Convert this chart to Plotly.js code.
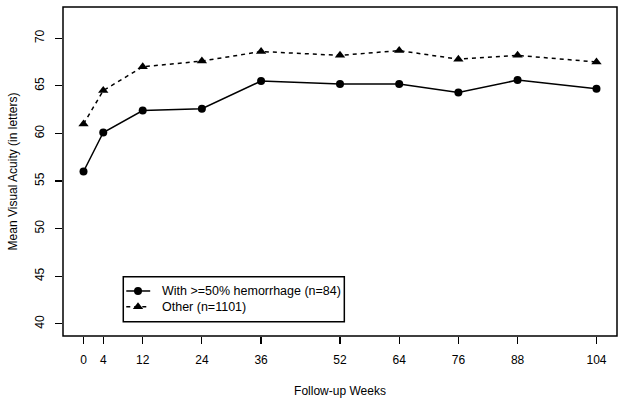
<!DOCTYPE html>
<html>
<head>
<meta charset="utf-8">
<script src="https://cdn.plot.ly/plotly-3.0.1.min.js"></script>
<style>html,body{margin:0;padding:0;background:#fff;}#chart{width:624px;height:403px;}</style>
</head>
<body>
<div id="chart"></div>
<script>
var weeks = [0, 4, 12, 24, 36, 52, 64, 76, 88, 104];
var hemorrhage = [56.0, 60.1, 62.4, 62.6, 65.5, 65.2, 65.2, 64.3, 65.6, 64.7];
var other = [61.0, 64.5, 67.0, 67.6, 68.6, 68.2, 68.7, 67.8, 68.2, 67.5];
var yTicks = [40, 45, 50, 55, 60, 65, 70];
var seriesNames = ["With >=50% hemorrhage (n=84)", "Other (n=1101)"];

// legend layout (fractions of the plot area)
var legBox = {x0: 0.1088, x1: 0.5078, y0: 0.0435, y1: 0.1802};
var legRowY = [0.1368, 0.0891];
var legLineX = [0.1142, 0.1574];
var legMarkX = 0.1354;
var legTextX = 0.1751;

var font = {family: "Liberation Sans, Arial, sans-serif", size: 12, color: "#000"};

var traces = [
  {
    x: weeks, y: hemorrhage, name: seriesNames[0], type: "scatter", mode: "lines+markers",
    line: {color: "#000", width: 1.5},
    marker: {symbol: "circle", size: 8, color: "#000"}, showlegend: false
  },
  {
    x: weeks, y: other, name: seriesNames[1], type: "scatter", mode: "lines+markers",
    line: {color: "#000", width: 1.5, dash: "4px,4px"},
    marker: {symbol: "triangle-up", size: 9, color: "#000"}, showlegend: false
  },
  // legend keys drawn on an overlay axis spanning 0..1
  {
    x: legLineX, y: [legRowY[0], legRowY[0]], xaxis: "x2", yaxis: "y2", type: "scatter", mode: "lines",
    line: {color: "#000", width: 1.5}, showlegend: false, hoverinfo: "skip"
  },
  {
    x: [legMarkX], y: [legRowY[0]], xaxis: "x2", yaxis: "y2", type: "scatter", mode: "markers",
    marker: {symbol: "circle", size: 8, color: "#000"}, showlegend: false, hoverinfo: "skip"
  },
  {
    x: legLineX, y: [legRowY[1], legRowY[1]], xaxis: "x2", yaxis: "y2", type: "scatter", mode: "lines",
    line: {color: "#000", width: 1.5, dash: "4px,4px"}, showlegend: false, hoverinfo: "skip"
  },
  {
    x: [legMarkX], y: [legRowY[1]], xaxis: "x2", yaxis: "y2", type: "scatter", mode: "markers",
    marker: {symbol: "triangle-up", size: 9, color: "#000"}, showlegend: false, hoverinfo: "skip"
  }
];

var layout = {
  width: 624, height: 403,
  margin: {l: 63, r: 7, t: 7, b: 67},
  paper_bgcolor: "#fff", plot_bgcolor: "#fff",
  font: font,
  showlegend: false,
  xaxis: {
    range: [-4.16, 108.16], tickvals: weeks, ticktext: weeks.map(String),
    showgrid: false, zeroline: false, showline: false,
    ticks: "outside", ticklen: 7, tickwidth: 1.2, tickcolor: "#000",
    ticklabelstandoff: 6,
    tickfont: {size: 12},
    title: {text: "Follow-up Weeks", font: {size: 12}, standoff: 20}
  },
  yaxis: {
    range: [38.72, 73.28], tickvals: yTicks,
    showgrid: false, zeroline: false, showline: false,
    ticks: "outside", ticklen: 7, tickwidth: 1.2, tickcolor: "#000",
    tickangle: -90, ticklabelstandoff: 6,
    tickfont: {size: 12},
    title: {text: "Mean Visual Acuity (in letters)", font: {size: 12}, standoff: 13}
  },
  xaxis2: {overlaying: "x", range: [0, 1], visible: false, fixedrange: true},
  yaxis2: {overlaying: "y", range: [0, 1], visible: false, fixedrange: true},
  shapes: [
    {type: "rect", xref: "paper", yref: "paper", x0: 0, x1: 1, y0: 0, y1: 1,
     line: {color: "#000", width: 1.5}},
    {type: "rect", xref: "x2", yref: "y2", x0: legBox.x0, x1: legBox.x1, y0: legBox.y0, y1: legBox.y1,
     line: {color: "#000", width: 1.5}, fillcolor: "rgba(0,0,0,0)"}
  ],
  annotations: seriesNames.map(function (n, i) {
    return {xref: "x2", yref: "y2", x: legTextX, y: legRowY[i], text: n, showarrow: false,
            xanchor: "left", yanchor: "middle",
            font: {family: "Liberation Sans, Arial, sans-serif", size: 12.5, color: "#000"}};
  })
};

Plotly.newPlot("chart", traces, layout, {displayModeBar: false, staticPlot: true});
</script>
</body>
</html>
